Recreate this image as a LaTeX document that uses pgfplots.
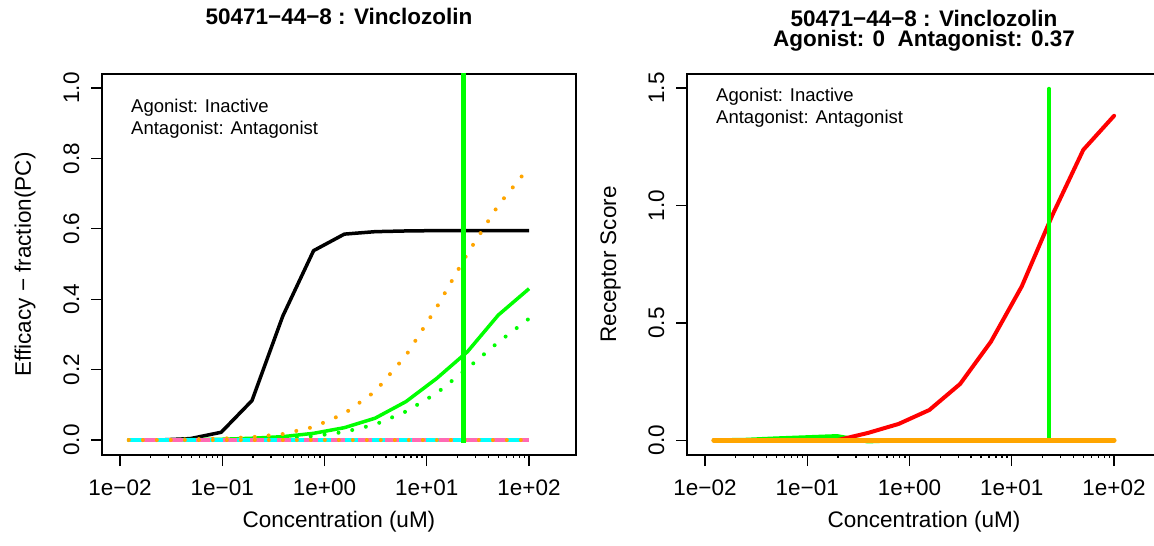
\documentclass[border=0pt]{standalone}
\usepackage{fontspec}
\setmainfont{Liberation Sans}
\usepackage{pgfplots}
\pgfplotsset{compat=1.18}
\usepackage{pgfplotstable}
\definecolor{rgreen}{RGB}{0,255,0}
\definecolor{rorange}{RGB}{255,165,0}
\definecolor{rpink}{RGB}{255,105,180}
\definecolor{rcyan}{RGB}{0,255,255}
\definecolor{rred}{RGB}{255,0,0}
\newcommand{\fmain}{\fontsize{22.5}{27}\selectfont}
\newcommand{\fsmall}{\fontsize{18.5}{22}\selectfont}
\newcommand{\twolines}[2]{\vtop{\baselineskip=20.2pt\lineskiplimit=-100pt\lineskip=0pt\halign{\hfil##\hfil\cr#1\cr#2\cr}}}

\pgfplotstableread{
x       black  gsolid gdot   odot
0.0122  0.000  0.000  0.000  0.000
0.0244  0.000  0.000  0.000  0.000
0.0488  0.004  0.001  0.000  0.002
0.0977  0.022  0.002  0.001  0.004
0.1953  0.112  0.005  0.002  0.008
0.3906  0.352  0.0095 0.005  0.017
0.7813  0.538  0.019  0.011  0.037
1.5625  0.585  0.035  0.023  0.075
3.125   0.592  0.062  0.044  0.138
6.25    0.594  0.109  0.081  0.240
12.5    0.595  0.175  0.133  0.377
25      0.595  0.251  0.204  0.530
50      0.595  0.355  0.278  0.667
100     0.595  0.430  0.345  0.775
}\lefttable

\pgfplotstableread{
x       red    green  zero
0.0122  0.000  0.000  0
0.0244  0.000  0.002  0
0.0488  0.000  0.008  0
0.0977  0.000  0.013  0
0.1953  0.000  0.018  0
0.3906  0.031  -0.005 0
0.7813  0.0695 0.000  0
1.5625  0.129  0.000  0
3.125   0.240  0.000  0
6.25    0.420  0.000  0
12.5    0.655  0.000  0
25      0.960  0.000  0
50      1.237  0.000  0
100     1.382  0.000  0
}\righttable

\begin{document}
\begin{tikzpicture}
\useasboundingbox (0pt,0pt) rectangle (1154pt,546pt);
% left panel
\begin{axis}[at={(102pt,91pt)}, anchor=south west,
    scale only axis, width=474pt, height=381pt,
    xmode=log, xmin=0.006668, xmax=287.7,
    xtick={0.01,0.1,1,10,100},
    xticklabels={1e−02,1e−01,1e+00,1e+01,1e+02},
    axis line style={line width=1.3pt},
    tick style={line width=1.3pt, black},
    tick align=outside, major tick length=11pt,
    xtick pos=left, ytick pos=left,
    xticklabel style={font=\fmain, anchor=base, yshift=-29pt},
    yticklabel style={font=\fmain, xshift=-12pt, rotate=90, anchor=base},
    xlabel style={font=\fmain, at={(axis description cs:0.5,0)}, anchor=base, yshift=-73pt},
    ylabel style={font=\fmain, at={(axis description cs:0,0.5)}, yshift=71pt, anchor=base},
    xlabel={Concentration (uM)},
  ymin=-0.0426, ymax=1.04,
  ytick={0,0.2,0.4,0.6,0.8,1.0},
  yticklabels={0.0,0.2,0.4,0.6,0.8,1.0},
  ylabel={Efficacy − fraction(PC)}]
\addplot[black, line width=3.5pt, line join=round] table[x=x,y=black] {\lefttable};
\addplot[rgreen, line width=3.5pt, line join=round] table[x=x,y=gsolid] {\lefttable};
\addplot[rgreen, line width=4pt, line cap=round, dash pattern=on 0pt off 14pt] table[x=x,y=gdot] {\lefttable};
\addplot[rorange, line width=4pt, line cap=round, dash pattern=on 0pt off 14pt] table[x=x,y=odot] {\lefttable};
\addplot[rpink, line width=4.5pt] coordinates {(0.0122,0) (100,0)};
\addplot[rcyan, line width=4.5pt, dash pattern=on 13.5pt off 13.5pt] coordinates {(0.0122,0) (100,0)};
\addplot[rorange, line width=4pt, line cap=round, dash pattern=on 0pt off 14pt] coordinates {(0.0122,0) (100,0)};
\addplot[rgreen, line width=5pt] coordinates {(23.1,-0.008) (23.1,1.2)};
\end{axis}
% right panel
\begin{axis}[at={(687pt,91pt)}, anchor=south west,
    scale only axis, width=474pt, height=381pt,
    xmode=log, xmin=0.006668, xmax=287.7,
    xtick={0.01,0.1,1,10,100},
    xticklabels={1e−02,1e−01,1e+00,1e+01,1e+02},
    axis line style={line width=1.3pt},
    tick style={line width=1.3pt, black},
    tick align=outside, major tick length=11pt,
    xtick pos=left, ytick pos=left,
    xticklabel style={font=\fmain, anchor=base, yshift=-29pt},
    yticklabel style={font=\fmain, xshift=-12pt, rotate=90, anchor=base},
    xlabel style={font=\fmain, at={(axis description cs:0.5,0)}, anchor=base, yshift=-73pt},
    ylabel style={font=\fmain, at={(axis description cs:0,0.5)}, yshift=71pt, anchor=base},
    xlabel={Concentration (uM)},
  ymin=-0.0627, ymax=1.56,
  ytick={0,0.5,1.0,1.5},
  yticklabels={0.0,0.5,1.0,1.5},
  ylabel={Receptor Score}]
\addplot[rgreen, line width=4pt, line cap=round, line join=round] table[x=x,y=green] {\righttable};
\addplot[rred, line width=4pt, line cap=round, line join=round] table[x=x,y=red] {\righttable};
\addplot[rgreen, line width=4pt, line cap=round] coordinates {(23.1,0) (23.1,1.497)};
\addplot[rorange, line width=5pt, line cap=round] table[x=x,y=zero] {\righttable};
\end{axis}
% titles
\node[font=\bfseries\fmain, anchor=base, inner sep=0pt] at (339pt,521pt) {50471−44−8 : Vinclozolin};
\node[font=\bfseries\fmain, anchor=base, inner sep=0pt] at (924pt,519.5pt) {\twolines{50471−44−8 : Vinclozolin}{Agonist: 0\ \ Antagonist: 0.37}};
% annotations
\node[font=\fsmall, anchor=base west, inner sep=0pt] at (131pt,433pt) {Agonist: Inactive};
\node[font=\fsmall, anchor=base west, inner sep=0pt] at (131pt,411pt) {Antagonist: Antagonist};
\node[font=\fsmall, anchor=base west, inner sep=0pt] at (716pt,444.3pt) {Agonist: Inactive};
\node[font=\fsmall, anchor=base west, inner sep=0pt] at (716pt,422.5pt) {Antagonist: Antagonist};
\end{tikzpicture}
\end{document}
